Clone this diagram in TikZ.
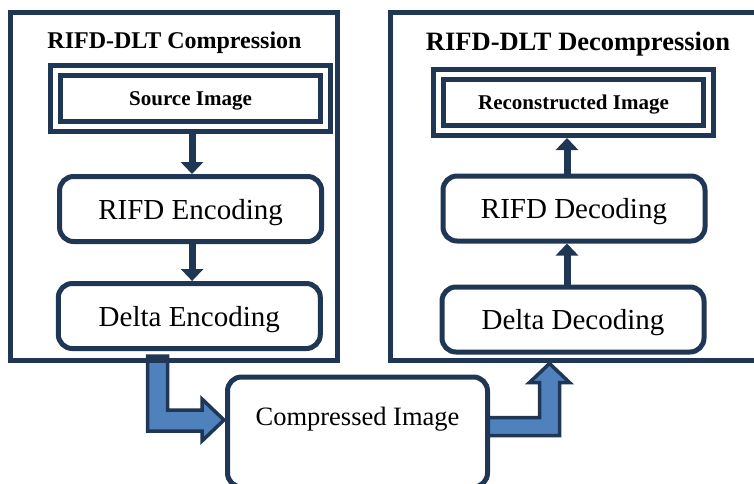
\documentclass[tikz,border=0pt]{standalone}
\usepackage{fontspec}
\setmainfont{Liberation Serif}
\usetikzlibrary{arrows.meta,calc}

\definecolor{navy}{RGB}{31,54,84}
\definecolor{flowblue}{RGB}{79,129,189}

\begin{document}
\begin{tikzpicture}[x=1pt,y=-1pt]

      \clip (0,0) rectangle (754,483);

      % block arrows to and from the compressed image
      \begin{scope}[draw=navy,fill=flowblue,line width=3.5]
        \filldraw (147.5,356) -- (167.5,356) -- (167.5,410) -- (202,410) -- (202,399)
          -- (224,420) -- (202,441) -- (202,431) -- (147.5,431) -- cycle;
        \filldraw (480,435.5) -- (559.5,435.5) -- (559.5,382.5) -- (569.5,382.5)
          -- (549.5,363.5) -- (529.5,382.5) -- (539.5,382.5) -- (539.5,417.5)
          -- (480,417.5) -- cycle;
      \end{scope}

      % outer frames
      \draw[navy,line width=5] (10.5,12.5) rectangle (337,360);
      \draw[navy,line width=5] (390.5,12.5) rectangle (780,360);

      \begin{scope}[every node/.style={text depth=0pt}]
        \node[font=\bfseries\fontsize{24}{29}\selectfont] (comptitle) at (174.5,40) {RIFD-DLT Compression};
        \node[font=\bfseries\fontsize{26.5}{32}\selectfont] (dectitle) at (578,41) {RIFD-DLT Decompression};
      \end{scope}

      \begin{scope}[every node/.style={draw=navy,fill=white,line width=5,double=white,double distance=5,
          outer sep=7.5,minimum width=270,minimum height=56,text depth=0pt,font=\bfseries\fontsize{21}{25}\selectfont}]
        \node (src) at (190.5,98.5)  {Source Image};
        \node (rec) at (573.5,102.5) {Reconstructed Image};
      \end{scope}

      \begin{scope}[every node/.style={draw=navy,fill=white,line width=5,rounded corners=14,
          minimum width=262,minimum height=65,text depth=0pt,font=\fontsize{29}{34}\selectfont}]
        \node (renc) at (190.6,209)   {RIFD Encoding};
        \node (denc) at (189.3,316)   {Delta Encoding};
        \node (rdec) at (574,208.5)   {RIFD Decoding};
        \node (ddec) at (573,319.5)   {Delta Decoding};
        \node[minimum width=260,minimum height=110] (comp) at (357.5,432) {};
      \end{scope}
      \node[font=\fontsize{26.5}{32}\selectfont,text depth=0pt] (comptext) at (357.5,416) {Compressed Image};

      \begin{scope}[navy,line width=7,-{Triangle[width=22,length=12]}]
        \draw ([xshift=1.5]src.south)  -- ([xshift=1.5]src.south |- renc.north);
        \draw ([xshift=1.5]renc.south) -- ([xshift=1.5]renc.south |- denc.north);
        \draw ([xshift=-6]ddec.north)  -- ([xshift=-6]ddec.north |- rdec.south);
        \draw ([xshift=-7]rdec.north)  -- ([xshift=-7]rdec.north |- rec.south);
      \end{scope}

    \end{tikzpicture}
\end{document}
